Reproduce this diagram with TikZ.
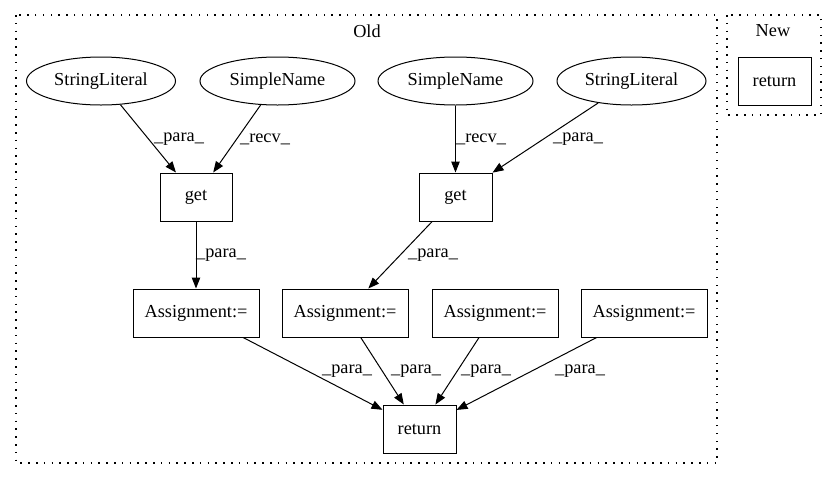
\documentclass[tikz,border=0pt]{standalone}
\usepackage{fontspec}
\setmainfont{Liberation Serif}
\usetikzlibrary{shapes.geometric,arrows.meta}
\begin{document}
\begin{tikzpicture}[x=1pt,y=-1pt,
  every node/.style={font=\fontsize{18.3}{22}\selectfont},
  ell/.style={draw,ellipse,line width=1pt,minimum height=48pt,inner sep=0pt},
  box/.style={draw,rectangle,line width=1pt,minimum height=48pt,inner sep=0pt},
  edge/.style={line width=1pt,-{Triangle[length=11pt,width=8.5pt]}},
  lbl/.style={inner sep=0pt},
  cluster/.style={draw,line width=1.3pt,dash pattern=on 1.5pt off 6.3pt}]
\useasboundingbox (0,0) rectangle (837,480);
% clusters
\draw[cluster] (16,15) rectangle (717,463);
\node (oldlbl) at (367,31) {Old};
\draw[cluster] (727,15) rectangle (821,115);
\node (newlbl) at (773,31) {New};
\node[box,minimum width=73pt] (newret) at (774.5,81) {return};
% nodes
\node[ell,minimum width=149pt] (sl1) at (101,81) {StringLiteral};
\node[ell,minimum width=155pt] (sn1) at (277.5,81) {SimpleName};
\node[ell,minimum width=155pt] (sn2) at (455.5,81) {SimpleName};
\node[ell,minimum width=149pt] (sl2) at (631.5,81) {StringLiteral};
\node[box,minimum width=72pt] (get1) at (196,197) {get};
\node[box,minimum width=73pt] (get2) at (455.5,197) {get};
\node[box,minimum width=126pt] (as1) at (196,313) {Assignment:=};
\node[box,minimum width=126pt] (as2) at (345,313) {Assignment:=};
\node[box,minimum width=126pt] (as3) at (495,313) {Assignment:=};
\node[box,minimum width=126pt] (as4) at (644,313) {Assignment:=};
\node[box,minimum width=73pt] (ret) at (419.5,429) {return};
% edges
\draw[edge] (sl1) -- (get1) node[lbl,at={(179,139)}] {\_para\_};
\draw[edge] (sn1) -- (get1) node[lbl,at={(265,139)}] {\_recv\_};
\draw[edge] (sn2) -- (get2) node[lbl,at={(481,139)}] {\_recv\_};
\draw[edge] (sl2) -- (get2) node[lbl,at={(578,139)}] {\_para\_};
\draw[edge] (get1) -- (as1) node[lbl,at={(221,255)}] {\_para\_};
\draw[edge] (get2) -- (as2) node[lbl,at={(433,255)}] {\_para\_};
\draw[edge] (as1) -- (ret) node[lbl,at={(347,371)}] {\_para\_};
\draw[edge] (as2) -- (ret) node[lbl,at={(416,371)}] {\_para\_};
\draw[edge] (as3) -- (ret) node[lbl,at={(486,371)}] {\_para\_};
\draw[edge] (as4) -- (ret) node[lbl,at={(580,371)}] {\_para\_};
\end{tikzpicture}
\end{document}
